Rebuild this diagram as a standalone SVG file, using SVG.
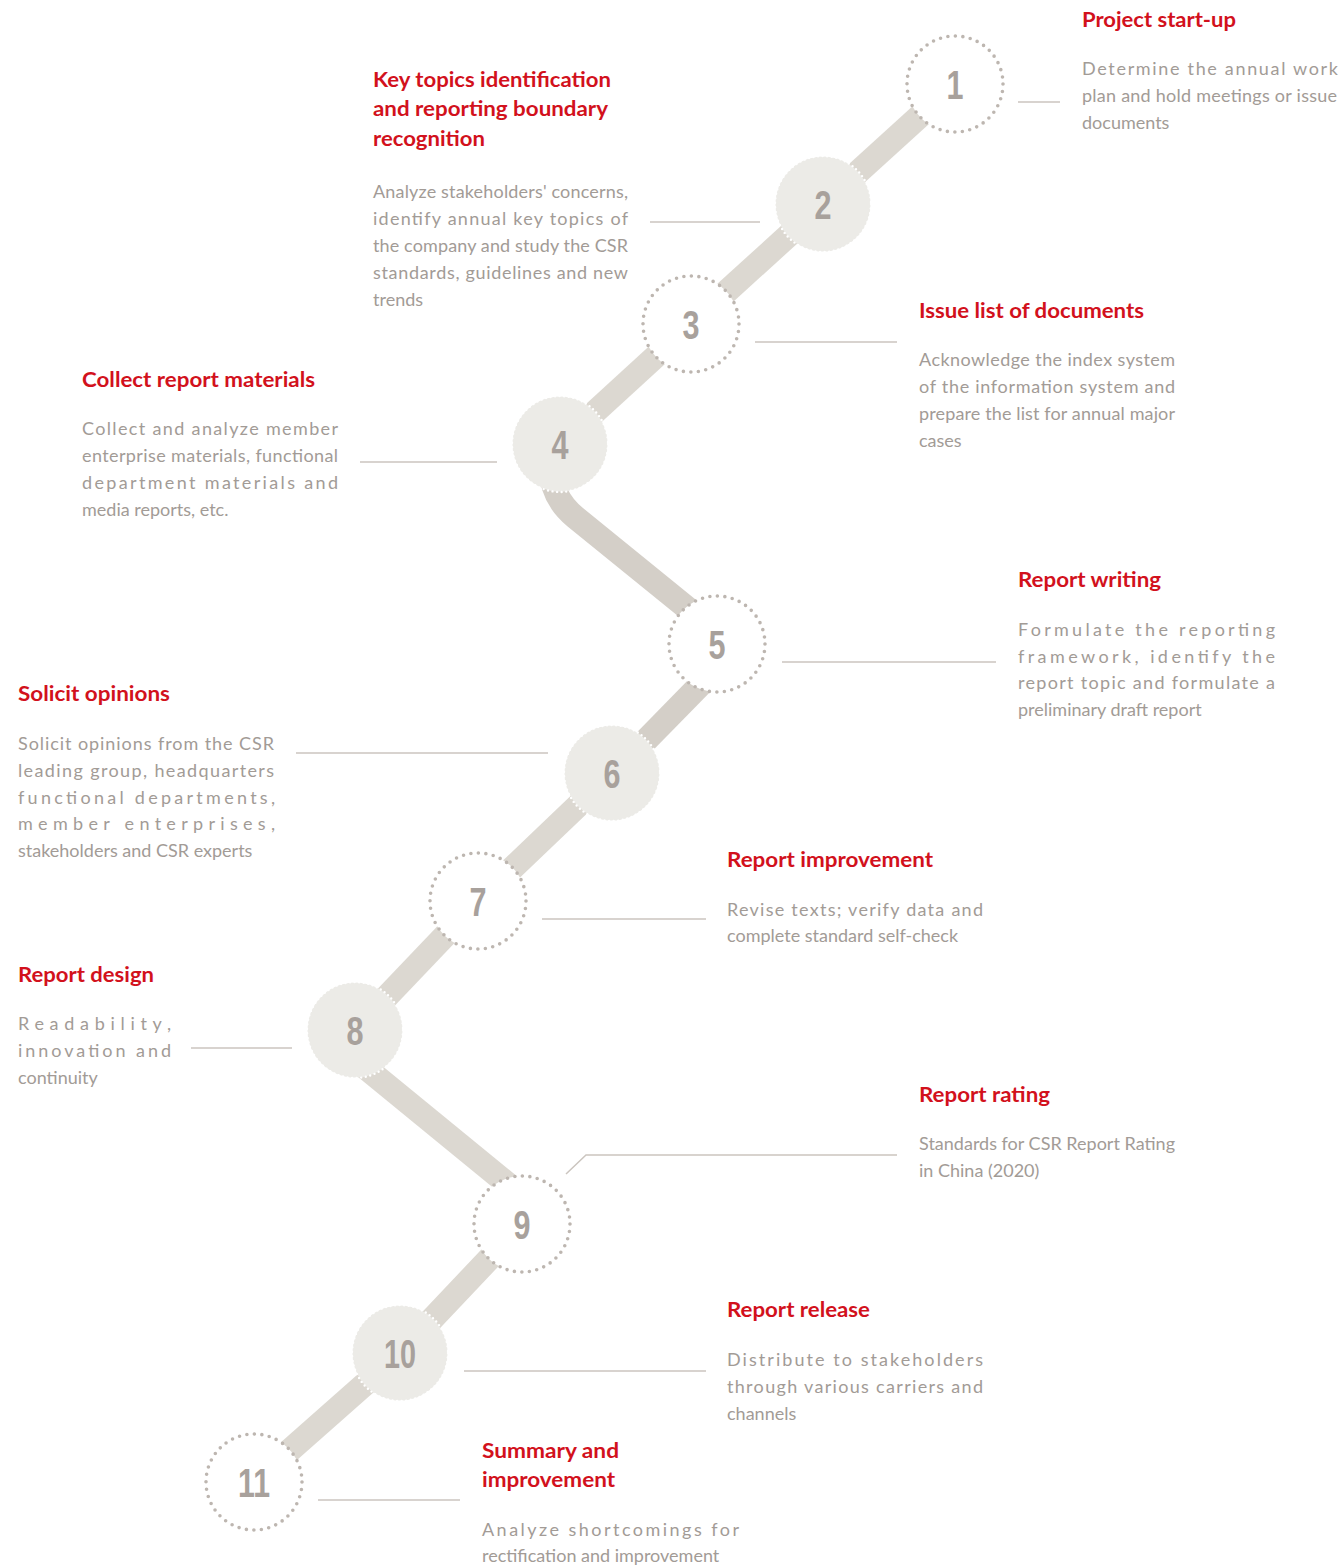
<svg xmlns="http://www.w3.org/2000/svg" width="1342" height="1565" viewBox="0 0 1342 1565">
<style>
.band{fill:none;stroke:#dcd8d1;stroke-width:24;stroke-linecap:butt}
.band2{fill:none;stroke:#d4cfc8;stroke-width:24;stroke-linecap:butt}
.lead{fill:none;stroke:#cbc5bf;stroke-width:1.5}
.dot{fill:#fff;stroke:#bdb6b0;stroke-width:3.6;stroke-dasharray:0 7.54;stroke-linecap:round}
.fill{fill:#ecebe7}
.scal{fill:none;stroke:#fff;stroke-width:2.4;stroke-dasharray:0 4.6;stroke-linecap:round}
.num{font-family:"Liberation Sans",Arial,sans-serif;font-weight:bold;font-size:41px;fill:#a8a19c;text-anchor:middle}
.t{font-family:Lato,"Liberation Sans",sans-serif;font-weight:bold;font-size:20px;fill:#d2111c}
.b{font-family:Lato,"Liberation Sans",sans-serif;font-size:18px;fill:#a29b96}
</style>
<g id="connectors">
<line class="band" x1="955" y1="84" x2="823" y2="204"/>
<line class="band" x1="823" y1="204" x2="691" y2="324"/>
<line class="band" x1="691" y1="324" x2="560" y2="444"/>
<path class="band2" d="M551 468 Q551 497 575 517 L692 612"/>
<line class="band2" x1="612" y1="775" x2="705" y2="680"/>
<line class="band" x1="612" y1="773" x2="478" y2="901"/>
<line class="band" x1="478" y1="901" x2="355" y2="1030"/>
<line class="band" x1="350" y1="1055" x2="510" y2="1186"/>
<line class="band" x1="522" y1="1224" x2="400" y2="1353"/>
<line class="band" x1="400" y1="1353" x2="254" y2="1482"/>
<line class="lead" x1="1018" y1="102" x2="1060" y2="102"/>
<line class="lead" x1="650" y1="222" x2="760" y2="222"/>
<line class="lead" x1="755" y1="342" x2="897" y2="342"/>
<line class="lead" x1="360" y1="462" x2="497" y2="462"/>
<line class="lead" x1="782" y1="662" x2="996" y2="662"/>
<line class="lead" x1="296" y1="753" x2="548" y2="753"/>
<line class="lead" x1="542" y1="919" x2="706" y2="919"/>
<line class="lead" x1="191" y1="1048" x2="292" y2="1048"/>
<polyline class="lead" points="566,1174 586,1155 897,1155"/>
<line class="lead" x1="464" y1="1371" x2="706" y2="1371"/>
<line class="lead" x1="318" y1="1500" x2="460" y2="1500"/>
</g>
<g id="node1"><circle class="dot" cx="955" cy="84" r="48"/><text class="num" x="955" y="98.5" textLength="17" lengthAdjust="spacingAndGlyphs">1</text>
<text class="t" x="1082" y="27" textLength="154" lengthAdjust="spacingAndGlyphs">Project start-up</text>
<text class="b" x="1082" y="75" textLength="256" lengthAdjust="spacing">Determine the annual work</text>
<text class="b" x="1082" y="102" textLength="255" lengthAdjust="spacing">plan and hold meetings or issue</text>
<text class="b" x="1082" y="129">documents</text></g>
<g id="node2"><circle class="fill" cx="823" cy="204" r="47.5"/><circle class="scal" cx="823" cy="204" r="48"/><text class="num" x="823" y="218.5" textLength="17" lengthAdjust="spacingAndGlyphs">2</text>
<text class="t" x="373" y="87" textLength="238" lengthAdjust="spacingAndGlyphs">Key topics identification</text>
<text class="t" x="373" y="116" textLength="235" lengthAdjust="spacingAndGlyphs">and reporting boundary</text>
<text class="t" x="373" y="146" textLength="112" lengthAdjust="spacingAndGlyphs">recognition</text>
<text class="b" x="373" y="198" textLength="255" lengthAdjust="spacing">Analyze stakeholders' concerns,</text>
<text class="b" x="373" y="225" textLength="255" lengthAdjust="spacing">identify annual key topics of</text>
<text class="b" x="373" y="252" textLength="255" lengthAdjust="spacing">the company and study the CSR</text>
<text class="b" x="373" y="279" textLength="255" lengthAdjust="spacing">standards, guidelines and new</text>
<text class="b" x="373" y="306">trends</text></g>
<g id="node3"><circle class="dot" cx="691" cy="324" r="48"/><text class="num" x="691" y="338.5" textLength="17" lengthAdjust="spacingAndGlyphs">3</text>
<text class="t" x="919" y="318" textLength="225" lengthAdjust="spacingAndGlyphs">Issue list of documents</text>
<text class="b" x="919" y="366" textLength="256" lengthAdjust="spacing">Acknowledge the index system</text>
<text class="b" x="919" y="393" textLength="256" lengthAdjust="spacing">of the information system and</text>
<text class="b" x="919" y="420" textLength="256" lengthAdjust="spacing">prepare the list for annual major</text>
<text class="b" x="919" y="447">cases</text></g>
<g id="node4"><circle class="fill" cx="560" cy="444" r="47.5"/><circle class="scal" cx="560" cy="444" r="48"/><text class="num" x="560" y="458.5" textLength="17" lengthAdjust="spacingAndGlyphs">4</text>
<text class="t" x="82" y="387" textLength="233" lengthAdjust="spacingAndGlyphs">Collect report materials</text>
<text class="b" x="82" y="435" textLength="256" lengthAdjust="spacing">Collect and analyze member</text>
<text class="b" x="82" y="462" textLength="256" lengthAdjust="spacing">enterprise materials, functional</text>
<text class="b" x="82" y="489" textLength="256" lengthAdjust="spacing">department materials and</text>
<text class="b" x="82" y="516">media reports, etc.</text></g>
<g id="node5"><circle class="dot" cx="717" cy="644" r="48"/><text class="num" x="717" y="658.5" textLength="17" lengthAdjust="spacingAndGlyphs">5</text>
<text class="t" x="1018" y="587" textLength="143" lengthAdjust="spacingAndGlyphs">Report writing</text>
<text class="b" x="1018" y="636" textLength="257" lengthAdjust="spacing">Formulate the reporting</text>
<text class="b" x="1018" y="663" textLength="257" lengthAdjust="spacing">framework, identify the</text>
<text class="b" x="1018" y="689" textLength="257" lengthAdjust="spacing">report topic and formulate a</text>
<text class="b" x="1018" y="716">preliminary draft report</text></g>
<g id="node6"><circle class="fill" cx="612" cy="773" r="47.5"/><circle class="scal" cx="612" cy="773" r="48"/><text class="num" x="612" y="787.5" textLength="17" lengthAdjust="spacingAndGlyphs">6</text>
<text class="t" x="18" y="701" textLength="152" lengthAdjust="spacingAndGlyphs">Solicit opinions</text>
<text class="b" x="18" y="750" textLength="256" lengthAdjust="spacing">Solicit opinions from the CSR</text>
<text class="b" x="18" y="777" textLength="256" lengthAdjust="spacing">leading group, headquarters</text>
<text class="b" x="18" y="804" textLength="257" lengthAdjust="spacing">functional departments,</text>
<text class="b" x="18" y="830" textLength="257" lengthAdjust="spacing">member enterprises,</text>
<text class="b" x="18" y="857">stakeholders and CSR experts</text></g>
<g id="node7"><circle class="dot" cx="478" cy="901" r="48"/><text class="num" x="478" y="915.5" textLength="17" lengthAdjust="spacingAndGlyphs">7</text>
<text class="t" x="727" y="867" textLength="206" lengthAdjust="spacingAndGlyphs">Report improvement</text>
<text class="b" x="727" y="916" textLength="256" lengthAdjust="spacing">Revise texts; verify data and</text>
<text class="b" x="727" y="942">complete standard self-check</text></g>
<g id="node8"><circle class="fill" cx="355" cy="1030" r="47.5"/><circle class="scal" cx="355" cy="1030" r="48"/><text class="num" x="355" y="1044.5" textLength="17" lengthAdjust="spacingAndGlyphs">8</text>
<text class="t" x="18" y="982" textLength="136" lengthAdjust="spacingAndGlyphs">Report design</text>
<text class="b" x="18" y="1030" textLength="153" lengthAdjust="spacing">Readability,</text>
<text class="b" x="18" y="1057" textLength="153" lengthAdjust="spacing">innovation and</text>
<text class="b" x="18" y="1084">continuity</text></g>
<g id="node9"><circle class="dot" cx="522" cy="1224" r="48"/><text class="num" x="522" y="1238.5" textLength="17" lengthAdjust="spacingAndGlyphs">9</text>
<text class="t" x="919" y="1102" textLength="131" lengthAdjust="spacingAndGlyphs">Report rating</text>
<text class="b" x="919" y="1150" textLength="256" lengthAdjust="spacing">Standards for CSR Report Rating</text>
<text class="b" x="919" y="1177">in China (2020)</text></g>
<g id="node10"><circle class="fill" cx="400" cy="1353" r="47.5"/><circle class="scal" cx="400" cy="1353" r="48"/><text class="num" x="400" y="1367.5" textLength="32" lengthAdjust="spacingAndGlyphs">10</text>
<text class="t" x="727" y="1317" textLength="143" lengthAdjust="spacingAndGlyphs">Report release</text>
<text class="b" x="727" y="1366" textLength="256" lengthAdjust="spacing">Distribute to stakeholders</text>
<text class="b" x="727" y="1393" textLength="256" lengthAdjust="spacing">through various carriers and</text>
<text class="b" x="727" y="1420">channels</text></g>
<g id="node11"><circle class="dot" cx="254" cy="1482" r="48"/><text class="num" x="254" y="1496.5" textLength="32" lengthAdjust="spacingAndGlyphs">11</text>
<text class="t" x="482" y="1458" textLength="137" lengthAdjust="spacingAndGlyphs">Summary and</text>
<text class="t" x="482" y="1487" textLength="133" lengthAdjust="spacingAndGlyphs">improvement</text>
<text class="b" x="482" y="1536" textLength="257" lengthAdjust="spacing">Analyze shortcomings for</text>
<text class="b" x="482" y="1562">rectification and improvement</text></g>
</svg>
